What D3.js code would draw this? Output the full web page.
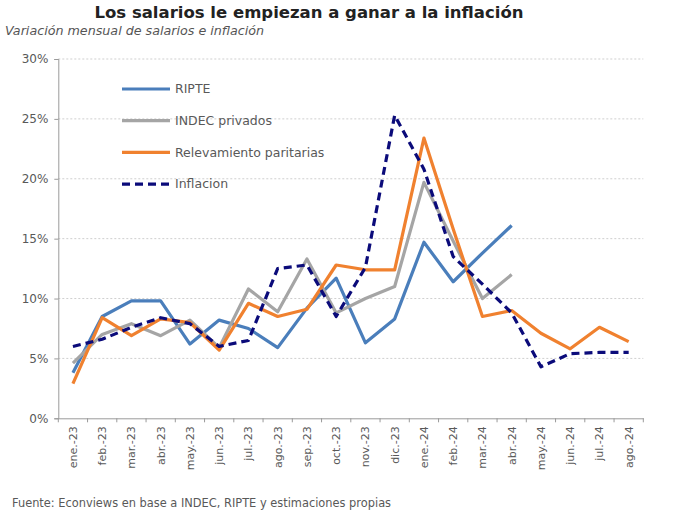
<!DOCTYPE html>
<html>
<head>
<meta charset="utf-8">
<script src="https://cdn.jsdelivr.net/npm/d3@7"></script>
<style>
  body { margin: 0; background: #fff; }
  svg { font-family: "DejaVu Sans", Verdana, sans-serif; }
</style>
</head>
<body>
<div id="chart"></div>
<script>
// Data (monthly % change)
const months = ["ene.-23","feb.-23","mar.-23","abr.-23","may.-23","jun.-23","jul.-23","ago.-23","sep.-23","oct.-23","nov.-23","dic.-23",
                "ene.-24","feb.-24","mar.-24","abr.-24","may.-24","jun.-24","jul.-24","ago.-24"];
const ripte      = [3.8, 8.5, 9.8, 9.8, 6.2, 8.2, 7.5, 5.9, 9.2, 11.7, 6.3, 8.3, 14.7, 11.4, 13.8, 16.1, null, null, null, null];
const indec      = [4.6, 7.0, 7.9, 6.9, 8.2, 5.9, 10.8, 8.9, 13.3, 8.8, 10.0, 11.0, 19.7, 14.8, 10.0, 12.0, null, null, null, null];
const paritarias = [2.9, 8.4, 6.9, 8.3, 8.0, 5.7, 9.6, 8.5, 9.1, 12.8, 12.4, 12.4, 23.4, 15.8, 8.5, 9.0, 7.1, 5.8, 7.6, 6.4];
const inflacion  = [6.0, 6.6, 7.6, 8.4, 7.9, 6.0, 6.5, 12.5, 12.8, 8.5, 12.6, 25.3, 20.8, 13.5, 11.2, 8.8, 4.3, 5.4, 5.5, 5.5];
const yTicks = [0, 5, 10, 15, 20, 25, 30];

const series = [
  {name: "RIPTE", values: ripte, color: "#4a7ebb", dash: null},
  {name: "INDEC privados", values: indec, color: "#a5a5a5", dash: null},
  {name: "Relevamiento paritarias", values: paritarias, color: "#f0812f", dash: null},
  {name: "Inflacion", values: inflacion, color: "#0b0b7a", dash: "8,5"}
];

const width = 674;
const height = 512;
const margin = {left: 58.3, right: 30.7, top: 59, bottom: 93.7};

const svg = d3.select("#chart")
  .append("svg")
  .attr("width", width)
  .attr("height", height);

// Scales
const x = d3.scaleBand()
  .domain(months)
  .range([margin.left, width - margin.right])
  .padding(0);

const y = d3.scaleLinear()
  .domain([0, 30])
  .range([height - margin.bottom, margin.top]);

// Titles
svg.append("text")
  .attr("x", 309)
  .attr("y", 18)
  .attr("text-anchor", "middle")
  .attr("font-size", "16.5px")
  .attr("font-weight", "bold")
  .attr("fill", "#222")
  .text("Los salarios le empiezan a ganar a la inflación");

svg.append("text")
  .attr("x", 5)
  .attr("y", 35)
  .attr("font-size", "12.7px")
  .attr("font-style", "italic")
  .attr("fill", "#555")
  .text("Variación mensual de salarios e inflación");

// Gridlines (dotted)
svg.append("g")
  .selectAll("line")
  .data(yTicks.filter(d => d > 0))
  .enter()
  .append("line")
    .attr("x1", margin.left)
    .attr("x2", width - margin.right)
    .attr("y1", d => y(d))
    .attr("y2", d => y(d))
    .attr("stroke", "#cfcfcf")
    .attr("stroke-width", 1)
    .attr("stroke-dasharray", "2,2");

// Y axis
const yAxis = svg.append("g")
  .attr("transform", `translate(${margin.left},0)`)
  .call(d3.axisLeft(y).tickValues(yTicks).tickFormat(d => d + "%").tickSize(4).tickPadding(6));
yAxis.select(".domain").attr("stroke", "#9a9a9a");
yAxis.selectAll(".tick line").attr("stroke", "#9a9a9a");
yAxis.selectAll("text")
  .attr("font-size", "12px")
  .attr("fill", "#595959")
  .attr("font-family", "DejaVu Sans, sans-serif");

// X axis: labels from the axis, ticks at band edges
const xAxis = svg.append("g")
  .attr("transform", `translate(0,${height - margin.bottom})`)
  .call(d3.axisBottom(x).tickSize(0).tickPadding(0));
xAxis.select(".domain").attr("stroke", "#9a9a9a");
xAxis.selectAll("text")
  .attr("font-size", "11px")
  .attr("fill", "#595959")
  .attr("font-family", "DejaVu Sans, sans-serif")
  .attr("text-anchor", "end")
  .attr("dy", "0.35em")
  .attr("transform", "translate(0,8) rotate(-90)");

const edges = months.map(m => x(m)).concat([x(months[months.length - 1]) + x.bandwidth()]);
xAxis.selectAll(".edge")
  .data(edges)
  .enter()
  .append("line")
    .attr("class", "edge")
    .attr("x1", d => d)
    .attr("x2", d => d)
    .attr("y1", 0)
    .attr("y2", 4)
    .attr("stroke", "#9a9a9a");

// Lines
const line = d3.line()
  .defined(d => d.v !== null)
  .x(d => x(d.m) + x.bandwidth() / 2)
  .y(d => y(d.v));

svg.append("g")
  .selectAll("path")
  .data(series)
  .enter()
  .append("path")
    .attr("fill", "none")
    .attr("stroke", d => d.color)
    .attr("stroke-width", 3.2)
    .attr("stroke-linejoin", "round")
    .attr("stroke-dasharray", d => d.dash)
    .attr("d", d => line(d.values.map((v, i) => ({m: months[i], v: v}))));

// Legend
const legend = svg.append("g")
  .selectAll("g")
  .data(series)
  .enter()
  .append("g")
    .attr("transform", (d, i) => `translate(122,${89 + i * 31.7})`);

legend.append("line")
  .attr("x1", 0)
  .attr("x2", 48)
  .attr("stroke", d => d.color)
  .attr("stroke-width", 3.2)
  .attr("stroke-dasharray", d => d.dash);

legend.append("text")
  .attr("x", 53)
  .attr("dy", "0.35em")
  .attr("font-size", "12.5px")
  .attr("fill", "#595959")
  .text(d => d.name);

// Source
svg.append("text")
  .attr("x", 12)
  .attr("y", 507)
  .attr("font-size", "11.4px")
  .attr("fill", "#595959")
  .text("Fuente: Econviews en base a INDEC, RIPTE y estimaciones propias");
</script>
</body>
</html>
